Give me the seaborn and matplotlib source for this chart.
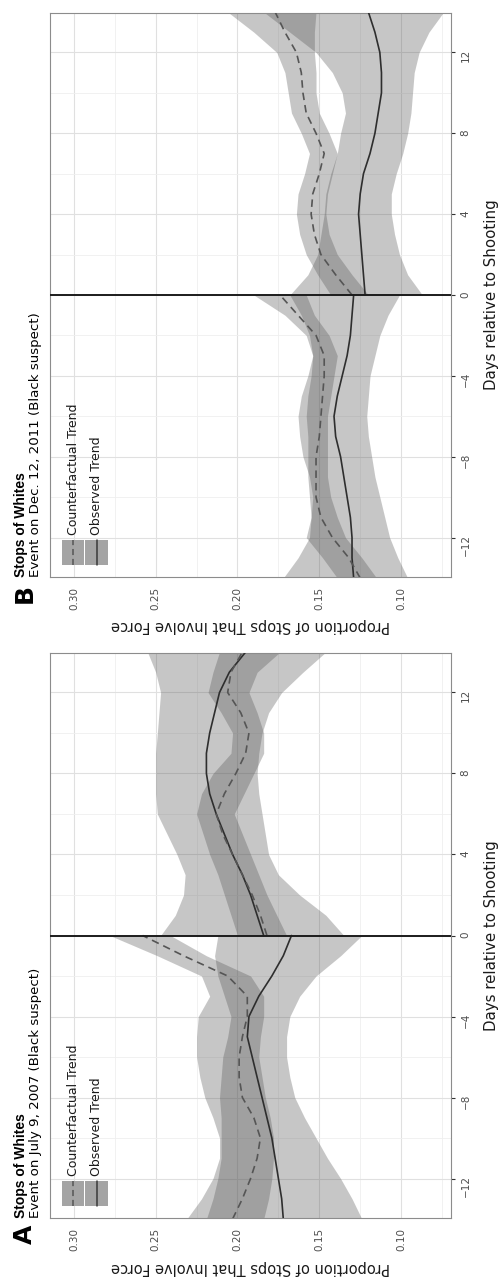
import matplotlib
matplotlib.use("Agg")
import matplotlib.pyplot as plt
import matplotlib.patches as mpatches
import numpy as np
import pandas as pd
import seaborn as sns

sns.set_style("white")
plt.rcParams["font.family"] = ["DejaVu Sans"]

# days relative to the shooting, before and after
days_pre = [-14, -13, -12, -11, -10, -9, -8, -7, -6, -5, -4, -3, -2, -1, 0]
days_post = [0, 1, 2, 3, 4, 5, 6, 7, 8, 9, 10, 11, 12, 13, 14]

# panel A, July 9 2007
A_obs_pre = [.172, .173, .175, .177, .179, .182, .185, .188, .191, .194, .193, .187, .179, .172, .167]
A_obs_lo_pre = [.124, .130, .137, .145, .152, .159, .165, .168, .170, .170, .168, .162, .152, .137, .124]
A_obs_hi_pre = [.219, .215, .212, .210, .210, .210, .211, .210, .209, .206, .204, .208, .212, .214, .212]
A_cf_pre = [.203, .197, .192, .188, .186, .190, .197, .199, .199, .197, .194, .194, .206, .233, .258]
A_cf_lo_pre = [.184, .181, .179, .178, .178, .180, .183, .185, .187, .186, .184, .184, .192, .219, .241]
A_cf_hi_pre = [.231, .222, .215, .211, .211, .215, .220, .223, .225, .225, .224, .217, .222, .249, .278]

A_obs_post = [.184, .188, .192, .197, .203, .208, .213, .217, .219, .219, .217, .214, .211, .205, .195]
A_obs_lo_post = [.135, .146, .162, .175, .181, .183, .185, .187, .188, .187, .185, .181, .173, .160, .146]
A_obs_hi_post = [.247, .238, .233, .232, .237, .243, .249, .250, .250, .250, .249, .248, .247, .250, .255]
A_cf_post = [.182, .186, .191, .197, .203, .209, .213, .208, .201, .195, .193, .198, .206, .204, .197]
A_cf_lo_post = [.170, .176, .182, .187, .192, .197, .202, .196, .190, .184, .184, .188, .193, .188, .174]
A_cf_hi_post = [.200, .204, .208, .212, .217, .221, .225, .222, .215, .204, .203, .210, .218, .215, .211]

# panel B, Dec. 12 2011
B_obs_pre = [.129, .130, .130, .131, .133, .135, .137, .140, .141, .139, .136, .133, .131, .130, .129]
B_obs_lo_pre = [.096, .102, .107, .110, .113, .116, .118, .120, .121, .120, .119, .116, .113, .108, .101]
B_obs_hi_pre = [.172, .163, .156, .155, .156, .157, .157, .157, .158, .157, .155, .154, .156, .161, .168]
B_cf_pre = [.125, .132, .142, .149, .152, .152, .152, .150, .149, .148, .147, .147, .152, .163, .174]
B_cf_lo_pre = [.115, .124, .134, .139, .143, .145, .145, .145, .145, .143, .141, .139, .144, .153, .158]
B_cf_hi_pre = [.139, .148, .158, .155, .154, .156, .160, .162, .163, .161, .157, .154, .158, .171, .190]

B_obs_post = [.122, .123, .124, .125, .126, .125, .123, .119, .116, .114, .112, .112, .113, .116, .120]
B_obs_lo_post = [.087, .096, .101, .104, .106, .106, .103, .099, .096, .094, .093, .092, .089, .083, .074]
B_obs_hi_post = [.168, .157, .151, .149, .147, .146, .143, .139, .137, .134, .136, .142, .152, .168, .184]
B_cf_post = [.130, .140, .149, .153, .155, .154, .150, .147, .152, .158, .160, .161, .164, .171, .177]
B_cf_lo_post = [.120, .130, .139, .144, .146, .145, .142, .139, .144, .150, .152, .152, .153, .153, .152]
B_cf_hi_post = [.143, .151, .158, .162, .164, .163, .159, .156, .161, .167, .169, .171, .176, .190, .206]

titles = ["Stops of Whites", "Stops of Whites"]
subtitles = ["Event on July 9, 2007 (Black suspect)", "Event on Dec. 12, 2011 (Black suspect)"]
tags = ["A", "B"]
prop_ticks = [0.30, 0.25, 0.20, 0.15, 0.10]
day_ticks = [-12, -8, -4, 0, 4, 8, 12]

CF = "Counterfactual Trend"
OBS = "Observed Trend"

panels = {
    "A": {
        "pre": {OBS: (A_obs_pre, A_obs_lo_pre, A_obs_hi_pre), CF: (A_cf_pre, A_cf_lo_pre, A_cf_hi_pre)},
        "post": {OBS: (A_obs_post, A_obs_lo_post, A_obs_hi_post), CF: (A_cf_post, A_cf_lo_post, A_cf_hi_post)},
    },
    "B": {
        "pre": {OBS: (B_obs_pre, B_obs_lo_pre, B_obs_hi_pre), CF: (B_cf_pre, B_cf_lo_pre, B_cf_hi_pre)},
        "post": {OBS: (B_obs_post, B_obs_lo_post, B_obs_hi_post), CF: (B_cf_post, B_cf_lo_post, B_cf_hi_post)},
    },
}

W, H = 502, 1277
fig = plt.figure(figsize=(W / 100, H / 100), dpi=100)
# frames: A at the bottom, B on top (whole figure is turned a quarter turn)
axA = fig.add_axes([50 / W, (H - 1218) / H, 401 / W, 565 / H])
axB = fig.add_axes([50 / W, (H - 577) / H, 401 / W, 564 / H])

ribbon = "#545454"
for ax, tag, title, sub in zip([axA, axB], tags, titles, subtitles):
    rows = []
    for period, dd in [("pre", days_pre), ("post", days_post)]:
        for trend in [OBS, CF]:
            mid, lo, hi = panels[tag][period][trend]
            ax.fill_betweenx(dd, lo, hi, color=ribbon, alpha=0.33, lw=0, zorder=1)
            rows.append(pd.DataFrame({"day": dd, "prop": mid, "trend": trend, "period": period}))
    df = pd.concat(rows, ignore_index=True)

    sns.lineplot(data=df, x="prop", y="day", hue="trend", style="trend",
                 units="period", estimator=None, orient="y", sort=True,
                 palette={CF: "#555555", OBS: "#2e2e2e"},
                 dashes={CF: (4.5, 3), OBS: ""}, linewidth=1.2,
                 legend=False, ax=ax, zorder=3)
    ax.axhline(0, color="#1c1c1c", lw=1.4, zorder=5)

    ax.set_xlim(0.3146, 0.0695)
    ax.set_ylim(-13.95, 13.95)
    ax.set_xticks(prop_ticks)
    ax.set_xticklabels([f"{v:.2f}" for v in prop_ticks])
    ax.set_xticks([0.275, 0.225, 0.175, 0.125, 0.075], minor=True)
    ax.set_yticks(day_ticks)
    ax.set_yticklabels([str(d).replace("-", "\u2212") for d in day_ticks])
    ax.set_yticks([-10, -6, -2, 2, 6, 10], minor=True)
    ax.yaxis.tick_right()
    ax.set_xlabel("")
    ax.set_ylabel("")
    ax.set_axisbelow(True)
    ax.grid(which="major", color="#e0e0e0", lw=0.8)
    ax.grid(which="minor", color="#efefef", lw=0.6)
    ax.tick_params(which="minor", length=0)
    ax.tick_params(axis="x", which="major", labelrotation=90, labelsize=7.5, length=3,
                   width=0.8, color="#333333", labelcolor="#4d4d4d", pad=4)
    ax.tick_params(axis="y", which="major", labelrotation=90, labelsize=7.5, length=3,
                   width=0.8, color="#333333", labelcolor="#4d4d4d", pad=4,
                   right=True, left=False, labelright=True, labelleft=False)
    for s in ax.spines.values():
        s.set_color("#8c8c8c")
        s.set_linewidth(0.8)

    fh = ax.get_position().height * H
    # axis titles
    ax.text(1.102, 0.5, "Days relative to Shooting", transform=ax.transAxes,
            rotation=90, ha="center", va="center", fontsize=10.8, color="#1a1a1a")
    ax.text(0.5, -49 / fh, "Proportion of Stops That Involve Force", transform=ax.transAxes,
            rotation=180, ha="center", va="center", fontsize=10.5, color="#1a1a1a")

    # tag, title, subtitle
    ax.text(-18 / 401, -7 / fh, tag, transform=ax.transAxes, rotation=90,
            rotation_mode="anchor", ha="right", va="baseline",
            fontsize=18, fontweight="bold", color="black")
    ax.text(-25 / 401, 0, title, transform=ax.transAxes, rotation=90,
            rotation_mode="anchor", ha="left", va="baseline",
            fontsize=10, fontweight="bold", family="Liberation Sans", color="black")
    ax.text(-11 / 401, 0, sub, transform=ax.transAxes, rotation=90,
            rotation_mode="anchor", ha="left", va="baseline",
            fontsize=9.6, color="black")

    # legend drawn by hand, turned like the rest
    ky, kh = 12 / fh, 25 / fh
    for x0, lab, ls in [(62, CF, (0, (4, 2.5))), (85.5, OBS, "-")]:
        ax.add_patch(mpatches.Rectangle(((x0 - 50) / 401, ky), 22.5 / 401, kh,
                                        transform=ax.transAxes, facecolor="#a4a4a4",
                                        edgecolor="none", zorder=6))
        xc = (x0 + 11.25 - 50) / 401
        ax.plot([xc, xc], [ky, ky + kh], transform=ax.transAxes,
                color="#3a3a3a" if ls == "-" else "#555555", lw=1.1, ls=ls, zorder=7)
        ax.text(xc, ky + kh + 5 / fh, lab, transform=ax.transAxes, rotation=90,
                rotation_mode="anchor", ha="left", va="center",
                fontsize=9, color="#1a1a1a", zorder=7)

fig.savefig("out.png", dpi=100)
